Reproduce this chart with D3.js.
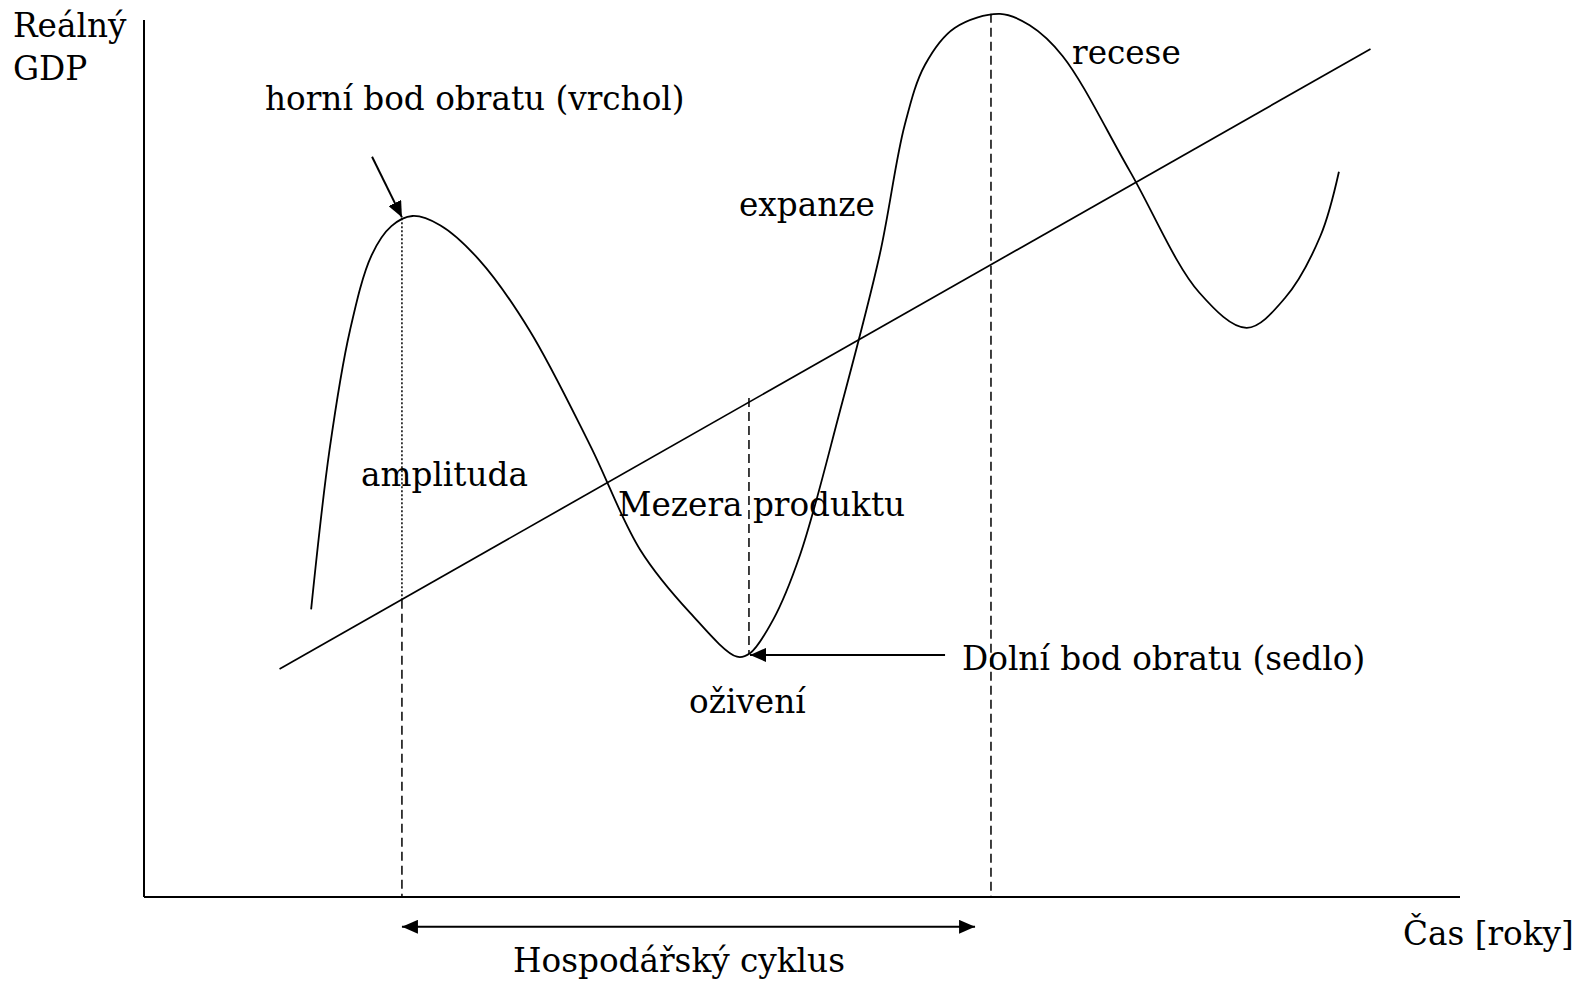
<!DOCTYPE html>
<html>
<head>
<meta charset="utf-8">
<script src="https://cdn.jsdelivr.net/npm/d3@7"></script>
<style>
  body { margin: 0; background: #fff; }
  text { font-family: "DejaVu Serif", serif; font-size: 32.7px; fill: #000; }
</style>
</head>
<body>
<div id="chart"></div>
<script>
// Chart data (time on x, real GDP on y, both 0-100 units)
var cycleT = [12.7, 14.1, 15.65, 17.3, 18.8, 20.4, 22.5, 25.5, 29.3, 33.9, 37.7, 41.5, 45.06, 46.05, 47.8, 49.85, 52.9, 55.9, 57.8, 59.35, 61.6, 65.05, 67.3, 69.8, 74.9, 80.2, 83.8, 86.7, 89.4, 90.8];
var cycleGDP = [32.8, 51.0, 64.6, 73.2, 76.5, 77.65, 76.6, 72.6, 64.6, 51.5, 39.6, 32.4, 27.4, 27.8, 31.6, 39.0, 55.5, 73.2, 88.0, 94.9, 99.1, 100.7, 99.4, 95.9, 82.8, 68.9, 64.9, 68.3, 75.4, 82.7];
var trendT = [10.3, 93.2];
var trendGDP = [26.0, 96.7];
// turning points: peak, trough, second peak
var markT = [19.6, 45.97, 64.36];
var peakGDP = 77.4, peakTrendGDP = 33.9;
var troughTop = 56.9, troughGDP = 27.7;
var peak2GDP = 100.7;
var cycleStart = 19.6, cycleEnd = 63.15, cycleLevel = -3.4;
var peakArrow = [[17.33, 84.4], [19.6, 77.5]];
var troughArrow = [[60.87, 27.6], [46.05, 27.6]];
var labels = ["Reálný", "GDP", "horní bod obratu (vrchol)", "recese", "expanze", "amplituda", "Mezera produktu", "Dolní bod obratu (sedlo)", "oživení", "Čas [roky]", "Hospodářský cyklus"];

var width = 1583, height = 982;

var svg = d3.select("#chart")
  .append("svg")
  .attr("width", width)
  .attr("height", height);

var x = d3.scaleLinear().domain([0, 100]).range([144, 1460]);
var y = d3.scaleLinear().domain([0, 100]).range([897, 20]);

// arrow heads
var defs = svg.append("defs");
defs.append("marker")
  .attr("id", "head")
  .attr("viewBox", "0 0 16 14")
  .attr("refX", 16).attr("refY", 7)
  .attr("markerWidth", 16).attr("markerHeight", 14)
  .attr("markerUnits", "userSpaceOnUse")
  .attr("orient", "auto-start-reverse")
  .append("path")
  .attr("d", "M0,0 L16,7 L0,14 Z")
  .attr("fill", "#000");

// axes (plain lines, no ticks)
svg.append("line")
  .attr("x1", x(0)).attr("y1", y(0))
  .attr("x2", x(0)).attr("y2", y(100))
  .attr("stroke", "#000").attr("stroke-width", 2);
svg.append("line")
  .attr("x1", x(0)).attr("y1", y(0))
  .attr("x2", x(100)).attr("y2", y(0))
  .attr("stroke", "#000").attr("stroke-width", 2.2);

// trend line
svg.append("line")
  .attr("x1", x(trendT[0])).attr("y1", y(trendGDP[0]))
  .attr("x2", x(trendT[1])).attr("y2", y(trendGDP[1]))
  .attr("stroke", "#000").attr("stroke-width", 1.7);

// business cycle curve
var pts = cycleT.map(function (t, i) { return [t, cycleGDP[i]]; });
var line = d3.line()
  .x(function (d) { return x(d[0]); })
  .y(function (d) { return y(d[1]); })
  .curve(d3.curveCatmullRom.alpha(0.5));
svg.append("path")
  .datum(pts)
  .attr("d", line)
  .attr("fill", "none")
  .attr("stroke", "#000")
  .attr("stroke-width", 1.8);

// vertical guides
function vline(t, g1, g2, dash) {
  svg.append("line")
    .attr("x1", x(t)).attr("y1", y(g1))
    .attr("x2", x(t)).attr("y2", y(g2))
    .attr("stroke", "#000").attr("stroke-width", 1.5)
    .attr("stroke-dasharray", dash);
}
vline(markT[0], peakGDP, peakTrendGDP, "2,2");
vline(markT[0], peakTrendGDP, 0, "9,5");
vline(markT[1], troughTop, troughGDP, "9,5");
vline(markT[2], peak2GDP, 0, "9,5");

// arrows
function arrow(a, b, both) {
  var l = svg.append("line")
    .attr("x1", x(a[0])).attr("y1", y(a[1]))
    .attr("x2", x(b[0])).attr("y2", y(b[1]))
    .attr("stroke", "#000").attr("stroke-width", 2)
    .attr("marker-end", "url(#head)");
  if (both) l.attr("marker-start", "url(#head)");
}
arrow(peakArrow[0], peakArrow[1]);
arrow(troughArrow[0], troughArrow[1]);
arrow([cycleStart, cycleLevel], [cycleEnd, cycleLevel], true);

// labels
var labelPos = [[13, 37], [13, 80], [265, 110], [1072, 64], [739, 216], [361, 486], [618, 516], [962, 670], [689, 713], [1403, 945], [513, 972]];
svg.selectAll("text.lbl")
  .data(labels)
  .enter()
  .append("text")
  .attr("class", "lbl")
  .attr("x", function (d, i) { return labelPos[i][0]; })
  .attr("y", function (d, i) { return labelPos[i][1]; })
  .text(function (d) { return d; });
</script>
</body>
</html>
